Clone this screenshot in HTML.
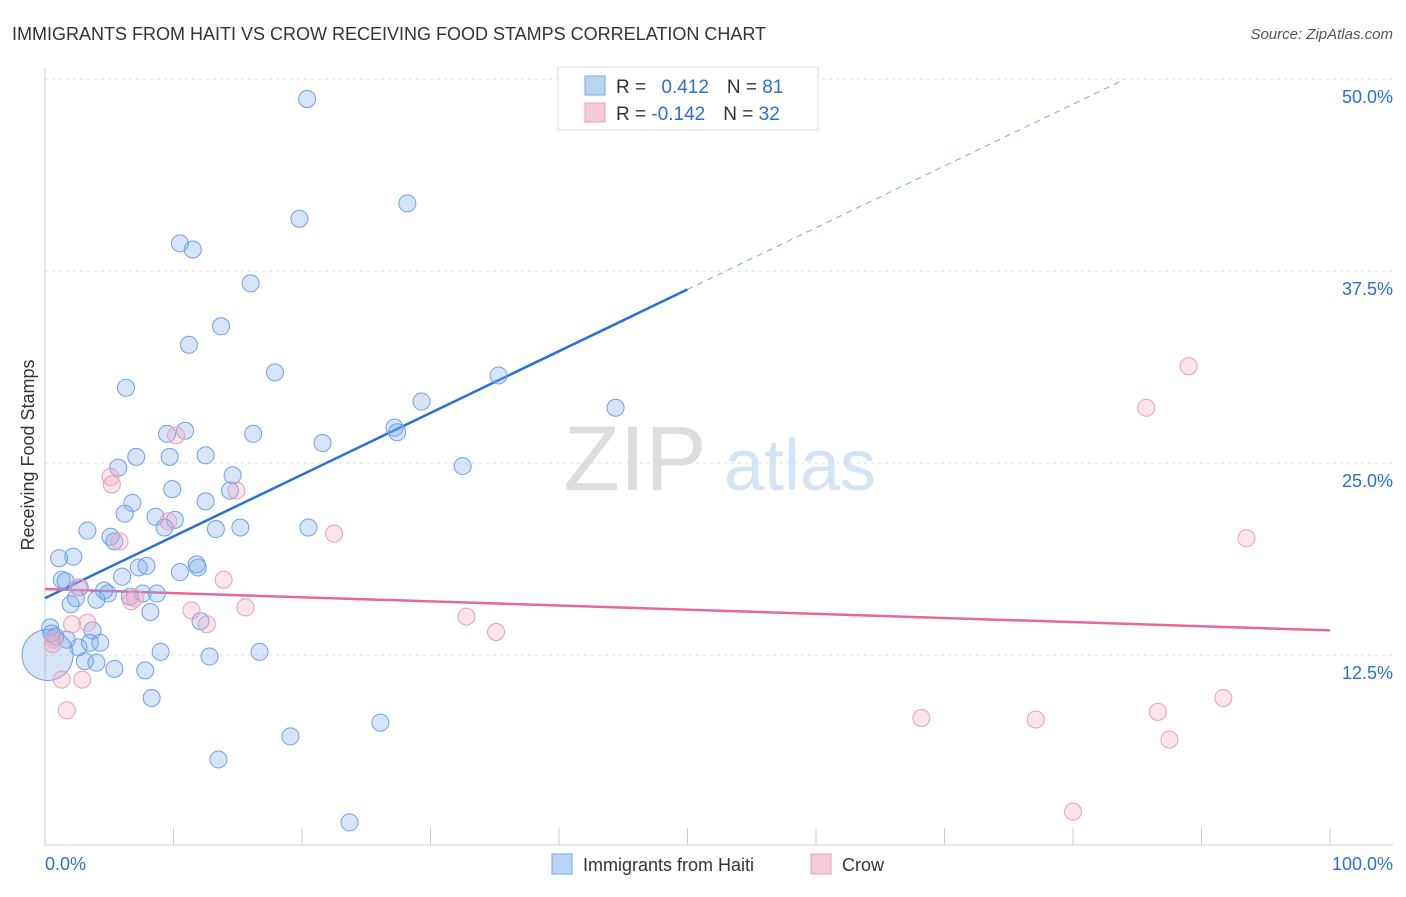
<!DOCTYPE html>
<html><head><meta charset="utf-8"><style>
body{margin:0;background:#fff;font-family:"Liberation Sans",sans-serif;}
svg text{font-family:"Liberation Sans",sans-serif;}
</style></head><body>
<svg id="chart" width="1406" height="892" xmlns="http://www.w3.org/2000/svg">
<text x="12" y="40" font-size="18" fill="#333">IMMIGRANTS FROM HAITI VS CROW RECEIVING FOOD STAMPS CORRELATION CHART</text>
<text x="1393" y="39" font-size="15" fill="#555" text-anchor="end" font-style="italic">Source: ZipAtlas.com</text>
<g>
<text x="635" y="490" font-size="92" fill="#ddd" text-anchor="middle" font-family="Liberation Serif">ZIP</text>
<text x="800" y="490" font-size="72" fill="#d4e4f6" text-anchor="middle">atlas</text>
</g>
<g id="grid"></g><g id="axes"></g><g id="lines"></g><g id="pts"></g>
<g>
<rect x="558" y="67" width="260" height="63" fill="#fff" stroke="#ddd"/>
<rect x="585" y="76" width="20" height="19" fill="#b9d4f5" stroke="#7aa9e8"/>
<rect x="585" y="103" width="20" height="19" fill="#f8c9d8" stroke="#e8a0b8"/>
<text x="616" y="93" font-size="19" fill="#333">R = <tspan fill="#2a6fd6" dx="10">0.412</tspan><tspan dx="18">N = </tspan><tspan fill="#2a6fd6">81</tspan></text>
<text x="616" y="120" font-size="19" fill="#333">R = <tspan fill="#2a6fd6">-0.142</tspan><tspan dx="18">N = </tspan><tspan fill="#2a6fd6">32</tspan></text>
</g>
<text transform="translate(34,455) rotate(-90)" font-size="18" fill="#333" text-anchor="middle">Receiving Food Stamps</text>
<text x="45" y="870" font-size="18" fill="#2a6fd6">0.0%</text>
<text x="1393" y="870" font-size="18" fill="#2a6fd6" text-anchor="end">100.0%</text>
<g>
<rect x="552" y="854" width="20" height="20" fill="#b9d4f5" stroke="#7aa9e8"/>
<text x="583" y="871" font-size="18" fill="#333">Immigrants from Haiti</text>
<rect x="811" y="854" width="20" height="20" fill="#f8c9d8" stroke="#e8a0b8"/>
<text x="842" y="871" font-size="18" fill="#333">Crow</text>
</g>
</svg>
<script>
const yTicks=[12.5,25,37.5,50];
const yTickLabels=["12.5%","25.0%","37.5%","50.0%"];
const xTicks=[0,10,20,30,40,50,60,70,80,90,100];
const haitiX=[20.4,28.2,19.8,10.5,11.5,16.0,13.7,11.2,17.9,6.3,35.3,29.3,44.4,27.2,27.4,9.5,10.9,16.2,21.6,7.1,9.7,12.5,32.5,5.7,14.6,9.9,14.4,12.5,6.8,6.2,8.6,10.1,9.3,13.3,15.2,20.5,3.3,5.1,5.4,1.1,2.2,7.9,7.3,11.8,11.9,10.5,6.0,1.3,1.6,2.7,4.6,4.9,8.7,7.6,6.6,2.4,4.0,2.0,8.2,12.1,0.4,3.7,0.8,1.7,3.5,4.3,2.6,9.0,16.7,12.8,3.1,4.0,5.4,7.8,8.3,26.1,19.1,13.5,23.7,0.2,0.5];
const haitiY=[48.7,41.9,40.9,39.3,38.9,36.7,33.9,32.7,30.9,29.9,30.7,29.0,28.6,27.3,27.0,26.9,27.1,26.9,26.3,25.4,25.4,25.5,24.8,24.7,24.2,23.3,23.2,22.5,22.4,21.7,21.5,21.3,20.8,20.7,20.8,20.8,20.6,20.2,19.9,18.8,18.9,18.3,18.2,18.4,18.2,17.9,17.6,17.4,17.3,16.9,16.7,16.5,16.5,16.5,16.3,16.2,16.1,15.8,15.3,14.7,14.3,14.1,13.7,13.5,13.3,13.3,13.0,12.7,12.7,12.4,12.1,12.0,11.6,11.5,9.7,8.1,7.2,5.7,1.6,12.5,13.9];
const haitiSize=haitiX.map((v,i)=>i===79?3:1);
const crowX=[89.0,85.7,10.2,5.1,5.2,14.9,9.6,22.5,5.8,93.5,13.9,2.6,6.7,7.0,11.4,15.6,32.8,12.6,2.1,3.3,35.1,0.7,0.6,1.3,2.9,1.7,68.2,77.1,86.6,91.7,87.5,80.0];
const crowY=[31.3,28.6,26.8,24.1,23.6,23.2,21.2,20.4,19.9,20.1,17.4,16.9,16.0,16.2,15.4,15.6,15.0,14.5,14.5,14.6,14.0,13.5,13.2,10.9,10.9,8.9,8.4,8.3,8.8,9.7,7.0,2.3];
const haitiTrend=[16.2,0.402];
const crowTrend=[16.8,-0.027];
const X=v=>45+v*12.85, Y=v=>847-v*15.36;
const NS="http://www.w3.org/2000/svg";
function mk(tag,attrs,parent){const e=document.createElementNS(NS,tag);for(const k in attrs)e.setAttribute(k,attrs[k]);document.getElementById(parent).appendChild(e);return e;}
yTicks.forEach((t,i)=>{
 const l=mk('line',{x1:45,x2:1393,y1:Y(t),y2:Y(t),stroke:'#ddd','stroke-dasharray':'3,4'},'grid');
 
 
 const tx=mk('text',{x:1393,y:Y(t)+24,'font-size':18,fill:'#2a6fd6','text-anchor':'end'},'grid');
 tx.textContent=yTickLabels[i];
 
 
});
let a=mk('line',{x1:45,x2:45,y1:68,y2:845,stroke:'#ccc'},'axes');


a=mk('line',{x1:45,x2:1393,y1:845,y2:845,stroke:'#ccc'},'axes');


xTicks.forEach(t=>{
 const l=mk('line',{x1:X(t),x2:X(t),y1:828,y2:845,stroke:'#ccc'},'axes');
 
 
});
let ln=mk('line',{x1:X(0),y1:Y(haitiTrend[0]),x2:X(50),y2:Y(haitiTrend[0]+50*haitiTrend[1]),stroke:'#2a6fd6','stroke-width':2.5},'lines');


ln=mk('line',{x1:X(50),y1:Y(haitiTrend[0]+50*haitiTrend[1]),x2:X(84),y2:Y(haitiTrend[0]+84*haitiTrend[1]),stroke:'#7aa9e8','stroke-width':1,'stroke-dasharray':'6,5'},'lines');


ln=mk('line',{x1:X(0),y1:Y(crowTrend[0]),x2:X(100),y2:Y(crowTrend[0]+100*crowTrend[1]),stroke:'#e8679a','stroke-width':2.5},'lines');


haitiX.forEach((v,i)=>{
 const c=mk('circle',{cx:X(v),cy:Y(haitiY[i]),r:8.5*haitiSize[i],fill:'rgba(120,170,240,0.3)',stroke:'#6fa0e6','stroke-width':1},'pts');
 
 
});
crowX.forEach((v,i)=>{
 const c=mk('circle',{cx:X(v),cy:Y(crowY[i]),r:8.5,fill:'rgba(245,165,190,0.3)',stroke:'#e8a0b8','stroke-width':1},'pts');
 
 
});
</script>
</body></html>
